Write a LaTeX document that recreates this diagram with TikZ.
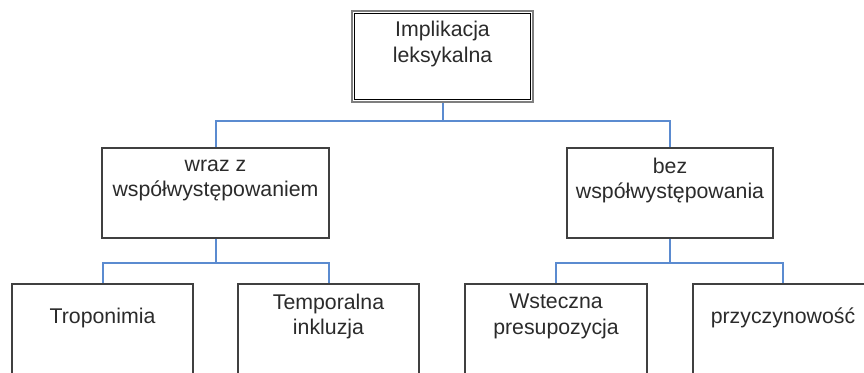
\documentclass[tikz,border=0pt]{standalone}
\usepackage{fontspec}
\setmainfont{Liberation Sans}
\usetikzlibrary{positioning}
\definecolor{edgegray}{HTML}{404040}
\definecolor{framegray}{HTML}{7F7F7F}
\definecolor{linkblue}{HTML}{5B8BD0}
\definecolor{inkgray}{HTML}{2B2B2B}
\tikzset{
  box/.style={rectangle, draw=edgegray, line width=2pt, fill=white,
              minimum height=90pt, inner sep=0pt, align=center, text=inkgray,
              font=\fontsize{21.3pt}{25.5pt}\selectfont,
              execute at begin node=\strut, text depth=29.65pt},
  rootbox/.style={box, draw=framegray, line width=2.5pt, minimum height=91pt},
  link/.style={draw=linkblue, line width=2pt},
}

\begin{document}
\begin{tikzpicture}[x=1pt, y=-1pt]
  \useasboundingbox (0,0) rectangle (864,372);

  \node[rootbox, minimum width=181pt] (lex) at (442.5,56.5) {Implikacja\\leksykalna};
  \draw[black, line width=1.3pt] ([xshift=4pt, yshift=-4pt]lex.north west)
    rectangle ([xshift=-4pt, yshift=4pt]lex.south east);

  \node[box, minimum width=227pt] (wraz) at (215.5,193) {wraz z\\współwystępowaniem};
  \node[box, minimum width=206pt] (bez)  at (670,193)   {bez\\współwystępowania};

  \node[box, minimum width=181pt] (tropo)  at (102.5,329) {Troponimia};
  \node[box, minimum width=181pt] (tempo)  at (328.5,329) {Temporalna\\inkluzja};
  \node[box, minimum width=182pt] (wstecz) at (556,329)   {Wsteczna\\presupozycja};
  \node[box, minimum width=181pt] (przycz) at (783,329)   {przyczynowość};

  \draw[link] (lex.south) -- ++(0,18) coordinate (forkA) -| (wraz.north);
  \draw[link] (forkA) -| (bez.north);
  \draw[link] (wraz.south) -- ++(0,24) coordinate (forkB) -| (tropo.north);
  \draw[link] (forkB) -| (tempo.north);
  \draw[link] (bez.south) -- ++(0,24) coordinate (forkC) -| (wstecz.north);
  \draw[link] (forkC) -| (przycz.north);
\end{tikzpicture}
\end{document}
